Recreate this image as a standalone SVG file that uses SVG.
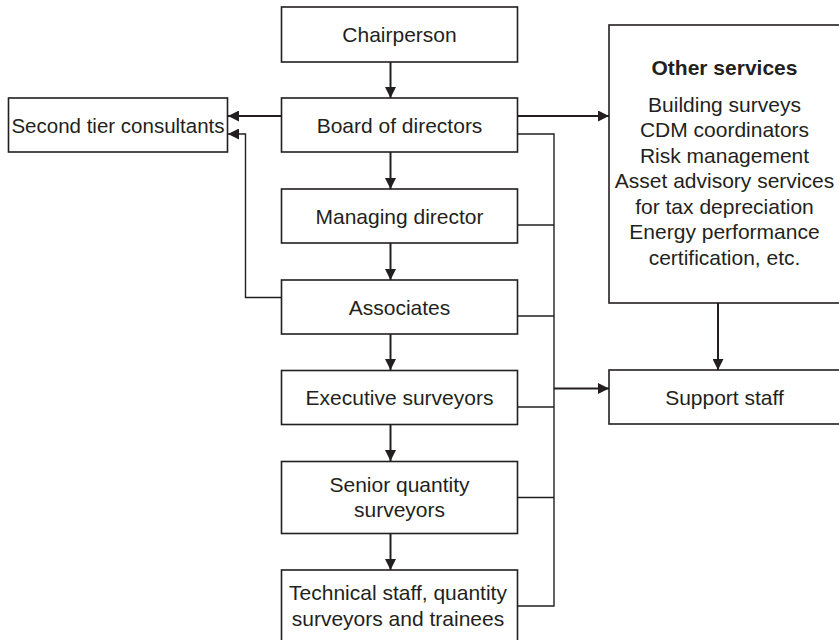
<svg xmlns="http://www.w3.org/2000/svg" width="839" height="640" viewBox="0 0 839 640">
<style>
.box{fill:#fff;stroke:#231f20;stroke-width:1.6}
.t{font-family:"Liberation Sans",Arial,sans-serif;font-size:21px;fill:#231f20;text-anchor:middle}
.b{font-weight:bold}
.c{fill:none;stroke:#231f20;stroke-width:1.4}
.a{fill:none;stroke:#231f20;stroke-width:2}
</style>
<defs>
<marker id="ah" viewBox="0 0 11 11" refX="11" refY="5.5" markerWidth="11" markerHeight="11" markerUnits="userSpaceOnUse" orient="auto">
<path d="M0,0 L11,5.5 L0,11 z" fill="#231f20"/>
</marker>
</defs>
<rect width="839" height="640" fill="#fff"/>
<g id="connectors">
<line class="a" x1="390.5" y1="62" x2="390.5" y2="98" marker-end="url(#ah)"/>
<line class="a" x1="390.5" y1="152" x2="390.5" y2="189" marker-end="url(#ah)"/>
<line class="a" x1="390.5" y1="243" x2="390.5" y2="280" marker-end="url(#ah)"/>
<line class="a" x1="390.5" y1="334" x2="390.5" y2="370" marker-end="url(#ah)"/>
<line class="a" x1="390.5" y1="424" x2="390.5" y2="461" marker-end="url(#ah)"/>
<line class="a" x1="390.5" y1="533" x2="390.5" y2="570" marker-end="url(#ah)"/>
<line class="a" x1="281" y1="116" x2="228" y2="116" marker-end="url(#ah)"/>
<path class="c" d="M281,297.5 H245.5 V134 H228" marker-end="url(#ah)"/>
<line class="a" x1="518" y1="116" x2="609" y2="116" marker-end="url(#ah)"/>
<path class="c" d="M518,134 H554 V606 H518"/>
<line class="c" x1="518" y1="225" x2="554" y2="225"/>
<line class="c" x1="518" y1="316" x2="554" y2="316"/>
<line class="c" x1="518" y1="407" x2="554" y2="407"/>
<line class="c" x1="518" y1="497.5" x2="554" y2="497.5"/>
<line class="a" x1="554" y1="388.5" x2="609" y2="388.5" marker-end="url(#ah)"/>
<line class="a" x1="718" y1="303" x2="718" y2="370" marker-end="url(#ah)"/>
</g>
<g id="chairperson">
<rect class="box" x="281.5" y="7" width="236" height="55"/>
<text class="t" x="399.5" y="42">Chairperson</text>
</g>
<g id="board">
<rect class="box" x="281.5" y="98" width="236" height="54"/>
<text class="t" x="399.5" y="132.5">Board of directors</text>
</g>
<g id="managing">
<rect class="box" x="281.5" y="189" width="236" height="54"/>
<text class="t" x="399.5" y="223.5">Managing director</text>
</g>
<g id="associates">
<rect class="box" x="281.5" y="280" width="236" height="54"/>
<text class="t" x="399.5" y="314.5">Associates</text>
</g>
<g id="executive">
<rect class="box" x="281.5" y="370.5" width="236" height="54"/>
<text class="t" x="399.5" y="405">Executive surveyors</text>
</g>
<g id="senior">
<rect class="box" x="281.5" y="461.5" width="236" height="72"/>
<text class="t" x="399.5" y="492">Senior quantity</text>
<text class="t" x="399.5" y="517">surveyors</text>
</g>
<g id="technical">
<rect class="box" x="281.5" y="570" width="236" height="80"/>
<text class="t" x="398" y="600">Technical staff, quantity</text>
<text class="t" x="398" y="626">surveyors and trainees</text>
</g>
<g id="second-tier">
<rect class="box" x="8.5" y="98" width="219" height="54"/>
<text class="t" x="118" y="132.5" style="font-size:20.5px">Second tier consultants</text>
</g>
<g id="other-services">
<rect class="box" x="609" y="25" width="240" height="278"/>
<text class="t b" x="724.5" y="75">Other services</text>
<text class="t" x="724.5" y="111.5">Building surveys</text>
<text class="t" x="724.5" y="137">CDM coordinators</text>
<text class="t" x="724.5" y="162.5">Risk management</text>
<text class="t" x="724.5" y="188">Asset advisory services</text>
<text class="t" x="724.5" y="213.5">for tax depreciation</text>
<text class="t" x="724.5" y="239">Energy performance</text>
<text class="t" x="724.5" y="265">certification, etc.</text>
</g>
<g id="support">
<rect class="box" x="609" y="370" width="240" height="54"/>
<text class="t" x="724.5" y="404.5">Support staff</text>
</g>
</svg>
